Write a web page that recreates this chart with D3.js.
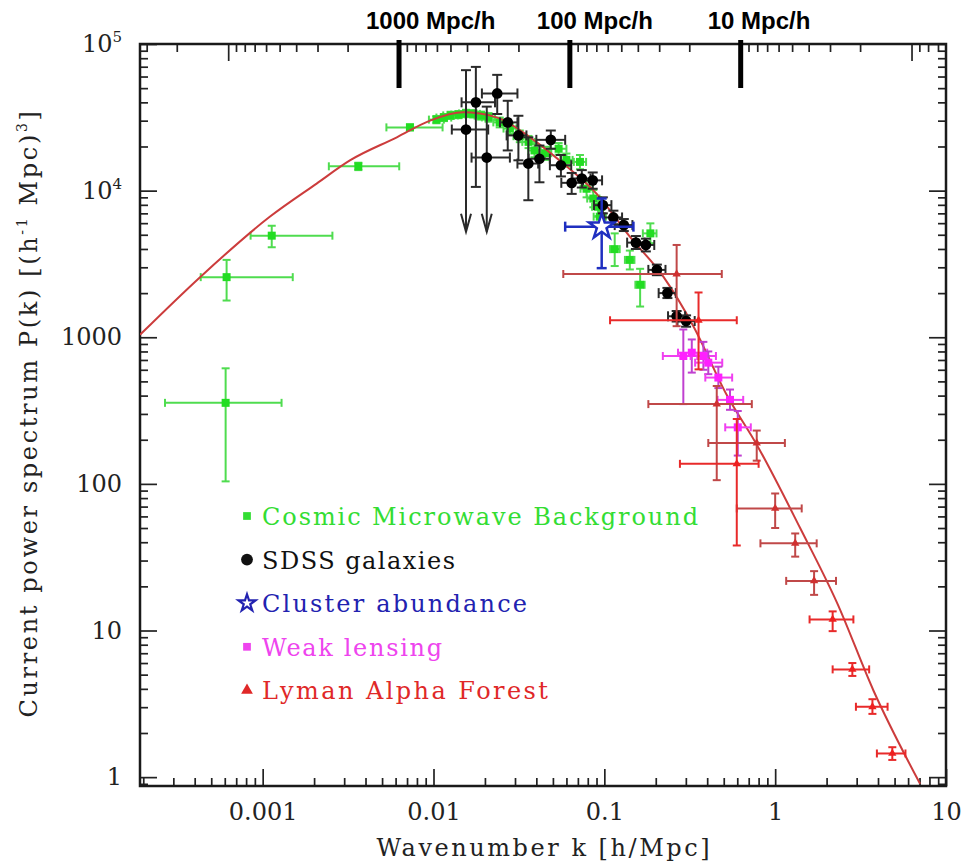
<!DOCTYPE html>
<html>
<head>
<meta charset="utf-8">
<script src="https://cdn.jsdelivr.net/npm/d3@7"></script>
<style>
  body { margin: 0; background: #fff; }
  svg { display: block; }
</style>
</head>
<body>
<svg id="chart" width="980" height="864"></svg>
<script>
// Axis extents (k in h/Mpc, P in (Mpc/h)^3)
const kDomain = [1.914e-4, 10];
const pDomain = [0.87, 1e5];

// Tick labels
const xTickValues = [0.001, 0.01, 0.1, 1, 10];
const xTickLabels = ["0.001", "0.01", "0.1", "1", "10"];
const yTickValues = [1, 10, 100, 1000, 1e4, 1e5];
const yTickLabels = ["1", "10", "100", "1000", "10|4", "10|5"];

// Physical scale markers along the top (Mpc/h)
const scaleMarks = [1000, 100, 10];
const scaleMarkLabels = ["1000 Mpc/h", "100 Mpc/h", "10 Mpc/h"];

// Linear-theory model curve
const modelK = [1.914e-4, 4.30e-4, 1.10e-3, 2.07e-3, 3.24e-3, 6.10e-3, 9.55e-3, 0.0149,
                0.0234, 0.0367, 0.0575, 0.090, 0.141, 0.221, 0.332, 0.52, 0.78, 1.40, 2.30, 3.76, 7.05];
const modelP = [1040, 2570, 6630, 11170, 16070, 23100, 30050, 34200,
                31600, 23100, 15300, 9550, 4850, 2600, 1190, 405, 185, 50, 15.5, 3.9, 0.9];

// Measurements: [k, P, kLow, kHigh, PLow, PHigh]
const cmb = [
  [6.07e-4, 357, 2.68e-4, 1.29e-3, 104, 614],
  [6.15e-4, 2570, 4.34e-4, 1.50e-3, 1780, 3370],
  [1.13e-3, 4930, 8.5e-4, 2.56e-3, 4110, 5760],
  [3.63e-3, 14650, 2.44e-3, 6.3e-3, 13800, 15500],
  [7.28e-3, 27000, 5.3e-3, 1.13e-2, 25800, 28300],
  [0.0104, 30500, 0.0094, 0.0115, 28800, 32300],
  [0.0115, 31500, 0.0104, 0.0127, 29800, 33300],
  [0.0126, 32600, 0.0114, 0.0139, 30800, 34500],
  [0.0140, 33000, 0.0127, 0.0154, 31200, 34900],
  [0.0155, 33600, 0.0141, 0.0170, 31700, 35600],
  [0.0171, 33400, 0.0156, 0.0187, 31500, 35400],
  [0.0190, 32500, 0.0174, 0.0207, 30500, 34600],
  [0.0210, 31600, 0.0192, 0.0229, 29500, 33800],
  [0.0244, 29200, 0.0224, 0.0266, 27000, 31500],
  [0.0280, 26500, 0.0257, 0.0305, 24300, 28800],
  [0.0320, 23500, 0.0294, 0.0348, 21400, 25700],
  [0.0360, 21500, 0.0331, 0.0392, 19500, 23600],
  [0.0390, 18800, 0.0359, 0.0424, 16900, 20800],
  [0.0450, 18000, 0.0414, 0.0489, 16200, 19900],
  [0.0540, 19300, 0.0480, 0.0600, 17600, 21100],
  [0.0600, 16200, 0.0553, 0.0652, 14600, 17900],
  [0.0720, 15700, 0.0663, 0.0782, 14000, 17500],
  [0.0787, 10300, 0.0725, 0.0855, 9000, 11800],
  [0.0862, 8830, 0.0794, 0.0936, 7700, 10100],
  [0.0920, 7760, 0.0848, 0.0999, 6700, 9000],
  [0.0940, 6640, 0.0866, 0.1021, 5600, 7900],
  [0.115, 3990, 0.108, 0.123, 3060, 5110],
  [0.141, 3370, 0.132, 0.150, 2900, 3900],
  [0.162, 2280, 0.152, 0.172, 1620, 2930],
  [0.186, 5110, 0.168, 0.202, 4380, 5980]
];

const sdss = [
  [0.0177, 40000, 0.0146, 0.0229, 10600, 69800],
  [0.0236, 46000, 0.0192, 0.0310, 33300, 61600],
  [0.0272, 29200, 0.0245, 0.0310, 18800, 41000],
  [0.0314, 23800, 0.0268, 0.0350, 16100, 32400],
  [0.0359, 15300, 0.0310, 0.0410, 8600, 23100],
  [0.0417, 16500, 0.0360, 0.0480, 11400, 20300],
  [0.0486, 22200, 0.0400, 0.0590, 19300, 25700],
  [0.0557, 14900, 0.0480, 0.0640, 12500, 17500],
  [0.0644, 11300, 0.0560, 0.0740, 9500, 13200],
  [0.0738, 12100, 0.0650, 0.0830, 10500, 13800],
  [0.0855, 11750, 0.0750, 0.0970, 10300, 13300],
  [0.098, 7960, 0.087, 0.110, 7000, 9000],
  [0.113, 6560, 0.100, 0.127, 5900, 7300],
  [0.130, 5820, 0.115, 0.146, 5300, 6400],
  [0.153, 4420, 0.136, 0.172, 4000, 4900],
  [0.175, 4260, 0.156, 0.196, 3850, 4700],
  [0.203, 2880, 0.181, 0.228, 2650, 3130],
  [0.234, 2000, 0.208, 0.262, 1850, 2170],
  [0.265, 1390, 0.236, 0.297, 1280, 1510],
  [0.301, 1290, 0.268, 0.338, 1180, 1410]
];

// SDSS bins whose lower bound is open: [k, P, kLow, kHigh, PArrowTip, PHigh]
const sdssOpen = [
  [0.0155, 26100, 0.0128, 0.0209, 5250, 66300],
  [0.0205, 16800, 0.0167, 0.0280, 5250, 37400]
];

const clusters = [
  [0.0965, 5680, 0.059, 0.148, 2960, 8840]
];

const lensing = [
  [0.290, 745, 0.22, 0.35, 350, 1130],
  [0.325, 785, 0.27, 0.40, 574, 966],
  [0.380, 745, 0.32, 0.45, 600, 930],
  [0.406, 671, 0.34, 0.49, 560, 800],
  [0.465, 531, 0.39, 0.56, 450, 630],
  [0.544, 374, 0.46, 0.65, 320, 440],
  [0.604, 243, 0.51, 0.72, 156, 314]
];

const lymanA = [
  [0.265, 2700, 0.0575, 0.487, 1190, 4260],
  [0.455, 350, 0.181, 0.73, 106, 465],
  [0.78, 190, 0.406, 1.14, 144, 231],
  [1.00, 68, 0.596, 1.43, 50, 86],
  [1.31, 39.3, 0.82, 1.75, 31.9, 45.9],
  [1.69, 21.8, 1.16, 2.27, 17.5, 25.4]
];

const lymanB = [
  [0.356, 1306, 0.108, 0.596, 604, 2020],
  [0.596, 137, 0.277, 0.80, 38, 277],
  [2.17, 11.9, 1.59, 2.87, 9.9, 13.5],
  [2.83, 5.43, 2.17, 3.55, 4.9, 6.0],
  [3.71, 3.02, 2.97, 4.55, 2.7, 3.4],
  [4.85, 1.45, 3.94, 5.79, 1.31, 1.6]
];

// Legend entries
const legendLabels = ["Cosmic Microwave Background", "SDSS galaxies", "Cluster abundance", "Weak lensing", "Lyman Alpha Forest"];

// ---------------------------------------------------------------
const svg = d3.select("#chart");
const pl = 140, pr = 946, pt = 44, pb = 786;

const x = d3.scaleLog().domain(kDomain).range([pl, pr]);
const y = d3.scaleLog().domain(pDomain).range([pb, pt]);
const lam = d3.scaleLog().domain(kDomain.map(k => 2 * Math.PI / k)).range([pl, pr]);

const SERIF = "'DejaVu Serif', 'Liberation Serif', serif";
const isDecade = v => Math.abs(Math.log10(v) - Math.round(Math.log10(v))) < 1e-6;

const plot = svg.append("g");
svg.append("defs").append("clipPath").attr("id", "clip")
  .append("rect").attr("x", pl).attr("y", pt).attr("width", pr - pl).attr("height", pb - pt);

// --- ticks on all four sides, pointing inward
function tickAxis(axisFn, scale, values, size, transform) {
  const g = plot.append("g").attr("transform", transform)
    .call(axisFn(scale).tickValues(values).tickSize(size).tickFormat(""));
  g.select(".domain").remove();
  g.selectAll(".tick line").attr("stroke", "#222").attr("stroke-width", 1.7);
}
const xAll = x.ticks(), yAll = y.ticks(), lAll = lam.ticks();
const xMaj = xAll.filter(isDecade), xMin = xAll.filter(v => !isDecade(v));
const yMaj = yAll.filter(isDecade), yMin = yAll.filter(v => !isDecade(v));
const lMaj = lAll.filter(isDecade), lMin = lAll.filter(v => !isDecade(v));

tickAxis(d3.axisTop, x, xMaj, 17, `translate(0,${pb})`);
tickAxis(d3.axisTop, x, xMin, 8, `translate(0,${pb})`);
tickAxis(d3.axisBottom, lam, lMaj, 17, `translate(0,${pt})`);
tickAxis(d3.axisBottom, lam, lMin, 8, `translate(0,${pt})`);
tickAxis(d3.axisRight, y, yMaj, 17, `translate(${pl},0)`);
tickAxis(d3.axisRight, y, yMin, 8, `translate(${pl},0)`);
tickAxis(d3.axisLeft, y, yMaj, 17, `translate(${pr},0)`);
tickAxis(d3.axisLeft, y, yMin, 8, `translate(${pr},0)`);

// frame
plot.append("rect").attr("x", pl).attr("y", pt).attr("width", pr - pl).attr("height", pb - pt)
  .attr("fill", "none").attr("stroke", "#1a1a1a").attr("stroke-width", 2.5);

// --- tick labels
const xLab = plot.append("g").attr("transform", `translate(0,${pb})`)
  .call(d3.axisBottom(x).tickValues(xTickValues).tickSize(0).tickPadding(17)
    .tickFormat((d, i) => xTickLabels[i]));
xLab.select(".domain").remove();
xLab.selectAll("text").attr("font-family", SERIF).attr("font-size", 24).attr("fill", "#222");

const yLab = plot.append("g").attr("transform", `translate(${pl},0)`)
  .call(d3.axisLeft(y).tickValues(yTickValues).tickSize(0).tickPadding(18).tickFormat(""));
yLab.select(".domain").remove();
yLab.selectAll(".tick text").each(function (d, i) {
  const parts = yTickLabels[i].split("|");
  const t = d3.select(this).attr("font-family", SERIF).attr("font-size", 24).attr("fill", "#222");
  t.text(null);
  t.append("tspan").text(parts[0]);
  if (parts[1]) t.append("tspan").attr("font-size", 15).attr("dy", -10).text(parts[1]);
});

// --- axis titles
svg.append("text").attr("x", (pl + pr) / 2).attr("y", 856).attr("text-anchor", "middle")
  .attr("font-family", SERIF).attr("font-size", 24).attr("fill", "#222")
  .attr("textLength", 333).attr("lengthAdjust", "spacing")
  .text("Wavenumber k [h/Mpc]");

const yTitle = svg.append("text").attr("transform", "translate(37,413) rotate(-90)")
  .attr("text-anchor", "middle").attr("font-family", SERIF).attr("font-size", 24)
  .attr("fill", "#222");
yTitle.append("tspan").text("Current power spectrum P(k) [(h");
yTitle.append("tspan").attr("font-size", 14).attr("dy", -10).text("-1");
yTitle.append("tspan").attr("dy", 10).text(" Mpc)");
yTitle.append("tspan").attr("font-size", 14).attr("dy", -10).text("3");
yTitle.append("tspan").attr("dy", 10).text("]");
// stretch the title to span the plot height evenly
(function () {
  const natural = yTitle.node().getComputedTextLength();
  const chars = yTitle.text().length;
  yTitle.attr("letter-spacing", Math.max(0, (609 - natural) / chars));
})();

// --- scale markers on top
svg.append("g").selectAll("line").data(scaleMarks).join("line")
  .attr("x1", d => lam(d)).attr("x2", d => lam(d)).attr("y1", 40).attr("y2", 88)
  .attr("stroke", "#000").attr("stroke-width", 5);
svg.append("g").selectAll("text").data(scaleMarks).join("text")
  .attr("x", d => lam(d) - 33).attr("y", 29)
  .attr("font-family", "'Liberation Sans', Arial, sans-serif").attr("font-weight", "bold")
  .attr("font-size", 24).attr("fill", "#000")
  .text((d, i) => scaleMarkLabels[i]);

// --- data layers
const layer = svg.append("g").attr("clip-path", "url(#clip)");

function errorBars(data, hColor, vColor, width, cap) {
  const g = layer.append("g").attr("stroke-width", width).attr("fill", "none");
  data.forEach(d => {
    const [k, p, kl, kh, lo, hi] = d;
    const cx = x(k), cy = y(p);
    g.append("line").attr("x1", x(kl)).attr("x2", x(kh)).attr("y1", cy).attr("y2", cy).attr("stroke", hColor);
    g.append("line").attr("x1", x(kl)).attr("x2", x(kl)).attr("y1", cy - cap).attr("y2", cy + cap).attr("stroke", hColor);
    g.append("line").attr("x1", x(kh)).attr("x2", x(kh)).attr("y1", cy - cap).attr("y2", cy + cap).attr("stroke", hColor);
    g.append("line").attr("x1", cx).attr("x2", cx).attr("y1", y(lo)).attr("y2", y(hi)).attr("stroke", vColor);
    g.append("line").attr("x1", cx - cap).attr("x2", cx + cap).attr("y1", y(hi)).attr("y2", y(hi)).attr("stroke", vColor);
    g.append("line").attr("x1", cx - cap).attr("x2", cx + cap).attr("y1", y(lo)).attr("y2", y(lo)).attr("stroke", vColor);
  });
}

function markers(data, type, size, fill, stroke, sw) {
  layer.append("g").selectAll("path").data(data).join("path")
    .attr("transform", d => `translate(${x(d[0])},${y(d[1])})`)
    .attr("d", d3.symbol().type(type).size(size))
    .attr("fill", fill).attr("stroke", stroke || "none").attr("stroke-width", sw || 0);
}

// CMB
errorBars(cmb, "#4fdc4f", "#4fdc4f", 2, 4);
markers(cmb, d3.symbolSquare, 64, "#22dd22");

// model curve
const line = d3.line().x(d => x(d[0])).y(d => y(d[1])).curve(d3.curveMonotoneX);
layer.append("path").datum(modelK.map((k, i) => [k, modelP[i]]))
  .attr("d", line).attr("fill", "none").attr("stroke", "#cc3c3c").attr("stroke-width", 2);

// SDSS
errorBars(sdss, "#2a2a2a", "#2a2a2a", 2, 5);
(function () {
  const g = layer.append("g").attr("stroke", "#2a2a2a").attr("stroke-width", 2).attr("fill", "none");
  sdssOpen.forEach(([k, p, kl, kh, tip, hi]) => {
    const cx = x(k), cy = y(p), ty = y(tip);
    g.append("line").attr("x1", x(kl)).attr("x2", x(kh)).attr("y1", cy).attr("y2", cy);
    g.append("line").attr("x1", x(kl)).attr("x2", x(kl)).attr("y1", cy - 5).attr("y2", cy + 5);
    g.append("line").attr("x1", x(kh)).attr("x2", x(kh)).attr("y1", cy - 5).attr("y2", cy + 5);
    g.append("line").attr("x1", cx).attr("x2", cx).attr("y1", y(hi)).attr("y2", ty);
    g.append("line").attr("x1", cx - 5).attr("x2", cx + 5).attr("y1", y(hi)).attr("y2", y(hi));
    g.append("path").attr("d", `M${cx - 5},${ty - 18}L${cx},${ty}L${cx + 5},${ty - 18}`);
  });
})();
markers(sdss.concat(sdssOpen), d3.symbolCircle, 90, "#000");

// Cluster abundance
errorBars(clusters, "#1f2fc0", "#1f2fc0", 2.5, 5);
markers(clusters, d3.symbolStar, 200, "#fff", "#1f2fc0", 2.5);

// Weak lensing
errorBars(lensing, "#f040f0", "#c040d0", 2, 4);
markers(lensing, d3.symbolSquare, 64, "#ff20ff");

// Lyman alpha forest
errorBars(lymanA, "#c04848", "#c04848", 2, 4);
errorBars(lymanB, "#e82a2a", "#e82a2a", 2, 4);
markers(lymanA, d3.symbolTriangle, 30, "#d03030");
markers(lymanB, d3.symbolTriangle, 30, "#ee2020");

// --- legend
const legendColors = ["#33dd33", "#111111", "#2222b0", "#ee44ee", "#e02828"];
const legendSymbols = [d3.symbolSquare, d3.symbolCircle, d3.symbolStar, d3.symbolSquare, d3.symbolTriangle];
const legendWidths = [436, 193, 265, 180, 286];
const leg = svg.append("g");
legendLabels.forEach((name, i) => {
  const cy = 516 + i * 43.6;
  const star = legendSymbols[i] === d3.symbolStar;
  leg.append("path").attr("transform", `translate(247,${cy})`)
    .attr("d", d3.symbol().type(legendSymbols[i]).size(star ? 90 : (i === 1 ? 110 : 60))())
    .attr("fill", star ? "#fff" : legendColors[i])
    .attr("stroke", star ? legendColors[i] : "none").attr("stroke-width", 2.2);
  leg.append("text").attr("x", 262).attr("y", cy + 9)
    .attr("font-family", SERIF).attr("font-size", 24).attr("fill", legendColors[i])
    .attr("textLength", legendWidths[i]).attr("lengthAdjust", "spacing")
    .text(name);
});
</script>
</body>
</html>
